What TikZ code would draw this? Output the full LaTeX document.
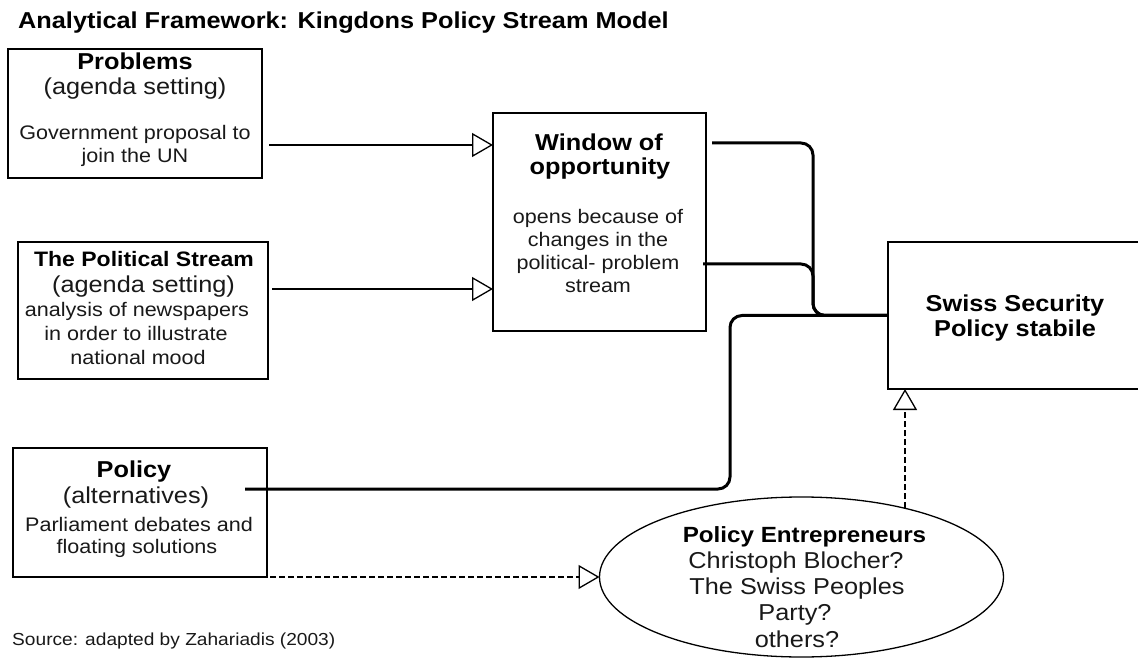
\documentclass[tikz,border=0pt]{standalone}
\usepackage{fontspec}
\setmainfont{Liberation Sans}[FakeStretch=1.1]
\usetikzlibrary{arrows.meta,calc,shapes.geometric}
\tikzset{
  box/.style={draw=black, line width=1.3pt, inner sep=0pt, outer sep=0pt, fill=white},
  thinconn/.style={line width=1.3pt},
  thickconn/.style={line width=3pt, rounded corners=12pt},
  opentip/.style={-{Triangle[open,length=21pt,width=24pt,line width=1.3pt]}},
  dashline/.style={line width=1.3pt, dash pattern=on 6pt off 3pt},
  hd/.style={font=\fontsize{23}{27}\selectfont\bfseries, anchor=base, inner sep=0pt, text=black},
  sub/.style={font=\fontsize{23}{27}\selectfont, anchor=base, inner sep=0pt, text=black!90},
  bd/.style={font=\fontsize{19.6}{23}\selectfont, anchor=base, inner sep=0pt, text=black!90},
}
\begin{document}
\begin{tikzpicture}[x=1pt,y=-1pt]
\clip (0,0) rectangle (1138,660);
\fill[white] (0,0) rectangle (1138,660);

% title
\node[hd, anchor=base west] (title) at (18,29) {Analytical Framework: Kingdons Policy Stream Model};

% boxes
\node[box, minimum width=254pt, minimum height=129pt] (prob) at (135,113.5) {};
\node[box, minimum width=250pt, minimum height=137pt] (pol) at (143,310.5) {};
\node[box, minimum width=213pt, minimum height=218pt] (win) at (599.5,222) {};
\node[box, minimum width=262pt, minimum height=147pt] (sw) at (1019,315.5) {};
\node[box, minimum width=254pt, minimum height=129pt] (poli) at (140,512.5) {};
\node[box, ellipse, minimum width=404pt, minimum height=160pt] (ell) at (801.5,577) {};

% Problems text
\node[hd] (p1) at (135,70) {Problems};
\node[sub] (p2) at (135,95) {(agenda setting)};
\node[bd] (p3) at (135,140) {Government proposal to};
\node[bd] (p4) at (135,163) {join the UN};

% Political stream text
\node[hd, font=\fontsize{20.9}{25}\selectfont\bfseries] (s1) at (144,267) {The Political Stream};
\node[sub] (s2) at (143.5,293) {(agenda setting)};
\node[bd] (s3) at (137,317) {analysis of newspapers};
\node[bd] (s4) at (136,341) {in order to illustrate};
\node[bd] (s5) at (138,364) {national mood};

% Window text
\node[hd] (w1) at (599,151) {Window of};
\node[hd] (w2) at (600,175) {opportunity};
\node[bd] (w3) at (598,224) {opens because of};
\node[bd] (w4) at (598,247) {changes in the};
\node[bd] (w5) at (598,270) {political- problem};
\node[bd] (w6) at (598,293) {stream};

% Swiss text
\node[hd] (sw1) at (1015,312) {Swiss Security};
\node[hd] (sw2) at (1015,337) {Policy stabile};

% Policy text
\node[hd] (q1) at (134,477) {Policy};
\node[sub] (q2) at (136,503) {(alternatives)};
\node[bd] (q3) at (139,531) {Parliament debates and};
\node[bd] (q4) at (137,553) {floating solutions};

% Ellipse text
\node[hd, font=\fontsize{22}{26}\selectfont\bfseries] (e1) at (804.5,542) {Policy Entrepreneurs};
\node[sub] (e2) at (796,568) {Christoph Blocher?};
\node[sub] (e3) at (797,594) {The Swiss Peoples};
\node[sub] (e4) at (795,620) {Party?};
\node[sub] (e5) at (797,647) {others?};

% source
\node[bd, anchor=base west, font=\fontsize{17.4}{21}\selectfont] (src) at (12,645) {Source: adapted by Zahariadis (2003)};

% connectors
\draw[thinconn, opentip] ($(prob.east)+(7,31.5)$) -- ($(win.west)+(0,-77)$);
\draw[thinconn, opentip] ($(pol.east)+(4,-21.5)$) -- ($(win.west)+(0,67)$);
\draw[thickconn] ($(win.east)+(6,-79)$) -| ($(sw.west)+(-75,0)$) -- (sw.west);
\draw[thickconn] ($(win.east)+(-3,42)$) -| ($(sw.west)+(-75,0)$) -- (sw.west);
\draw[thickconn] ($(poli.east)+(-22,-23.5)$) -| ($(sw.west)+(-158,0)$) -- (sw.west);
\draw[dashline, opentip] ($(poli.south east)+(3,0)$) -- (ell.west);
\draw[dashline, opentip] ($(ell.center)+(103.5,-69)$) -- ($(sw.south west)+(17,0)$);
\end{tikzpicture}
\end{document}
